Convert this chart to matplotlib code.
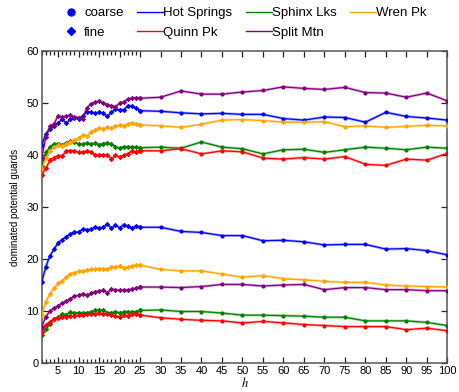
import matplotlib
matplotlib.use('Agg')
import matplotlib.pyplot as plt
from matplotlib.lines import Line2D

plt.rcParams['font.family'] = ['Liberation Sans', 'DejaVu Sans']
plt.rcParams['mathtext.fontset'] = 'stix'

h_fine = list(range(1, 26))
h_coarse = list(range(25, 101, 5))

names = ['Hot Springs', 'Sphinx Lks', 'Wren Pk', 'Quinn Pk', 'Split Mtn']
colors = ['#0000ff', '#008000', '#ffa500', '#ff0000', '#800080']

# upper group
hot_up_fine = [42.0, 44.0, 45.0, 45.5, 46.1, 46.9, 46.1, 46.9, 47.2, 47.0, 47.5, 48.3, 48.2,
               48.0, 48.2, 48.0, 47.4, 48.2, 48.8, 48.7, 48.7, 49.4, 49.4, 49.0, 48.5]
hot_up_coarse = [48.5, 48.4, 48.1, 47.9, 48.0, 47.8, 47.8, 47.0, 46.7, 47.3, 47.2, 46.3,
                 48.2, 47.4, 47.1, 46.7]
sphinx_up_fine = [37.8, 40.5, 41.5, 42.1, 42.2, 41.9, 42.3, 42.6, 42.5, 42.1, 42.1, 42.3, 42.1,
                  42.3, 42.0, 42.2, 42.3, 42.1, 41.6, 41.3, 41.6, 41.6, 41.5, 41.5, 41.4]
sphinx_up_coarse = [41.4, 41.5, 41.3, 42.5, 41.5, 41.2, 40.2, 41.0, 41.1, 40.5, 41.0, 41.5,
                    41.3, 41.0, 41.5, 41.3]
wren_up_fine = [37.3, 39.5, 40.8, 41.5, 41.9, 41.8, 42.1, 42.5, 42.8, 43.3, 43.8, 43.6, 44.5,
                44.8, 45.2, 45.0, 45.3, 45.2, 45.5, 45.8, 45.6, 46.0, 46.1, 46.0, 45.8]
wren_up_coarse = [45.8, 45.6, 45.3, 45.9, 46.7, 46.8, 46.6, 46.3, 46.3, 46.4, 45.4, 45.6,
                  45.3, 45.5, 45.7, 45.6]
quinn_up_fine = [36.2, 37.4, 39.0, 39.5, 39.8, 39.8, 40.8, 40.8, 40.8, 40.5, 40.5, 40.8, 40.5,
                 40.0, 40.0, 40.0, 40.0, 39.2, 39.9, 39.6, 39.9, 40.2, 40.8, 40.6, 40.8]
quinn_up_coarse = [40.8, 40.8, 41.2, 40.2, 40.8, 40.6, 39.4, 39.2, 39.5, 39.2, 39.7, 38.2,
                   38.0, 39.2, 39.0, 40.3]
split_up_fine = [39.5, 43.5, 45.5, 46.0, 47.5, 47.3, 47.5, 47.6, 47.3, 47.2, 47.0, 49.0, 49.8,
                 50.1, 50.4, 50.0, 49.7, 49.5, 49.3, 49.9, 50.2, 50.7, 50.9, 51.0, 50.9]
split_up_coarse = [50.9, 51.1, 52.3, 51.7, 51.7, 52.1, 52.4, 53.1, 52.8, 52.6, 53.0, 52.0,
                   51.9, 51.1, 51.9, 50.4]

# lower group
hot_lo_fine = [15.6, 18.5, 20.6, 21.9, 23.1, 23.7, 24.3, 24.8, 25.1, 25.2, 25.7, 25.6, 25.7,
               26.1, 25.9, 26.1, 26.7, 25.9, 26.5, 26.0, 26.6, 26.3, 25.9, 26.3, 26.1]
hot_lo_coarse = [26.1, 26.1, 25.3, 25.1, 24.5, 24.5, 23.5, 23.6, 23.3, 22.7, 22.8, 22.8,
                 21.9, 22.0, 21.6, 20.8]
sphinx_lo_fine = [5.4, 6.5, 7.5, 8.5, 8.8, 9.4, 9.3, 9.8, 9.6, 9.7, 9.6, 9.7, 9.8,
                  10.1, 10.2, 10.1, 9.7, 9.7, 9.8, 9.7, 9.8, 9.9, 9.8, 9.9, 10.1]
sphinx_lo_coarse = [10.1, 10.2, 9.9, 9.9, 9.6, 9.2, 9.2, 9.1, 9.0, 8.8, 8.8, 8.1,
                    8.1, 8.1, 7.8, 7.2]
wren_lo_fine = [9.2, 11.8, 13.3, 14.4, 15.3, 15.8, 16.5, 17.1, 17.4, 17.6, 17.6, 17.9, 18.0,
                18.0, 18.1, 18.1, 18.0, 18.4, 18.4, 18.7, 18.2, 18.4, 18.7, 18.8, 18.8]
wren_lo_coarse = [18.8, 18.0, 17.7, 17.7, 17.1, 16.5, 16.8, 16.2, 16.0, 15.7, 15.5, 15.5,
                  15.0, 14.8, 14.7, 14.6]
quinn_lo_fine = [6.0, 7.3, 7.9, 8.4, 8.6, 8.8, 8.8, 9.0, 9.0, 9.2, 9.2, 9.4, 9.4,
                 9.4, 9.7, 9.4, 9.4, 9.2, 9.0, 8.8, 9.2, 9.0, 9.4, 9.4, 9.2]
quinn_lo_coarse = [9.2, 8.7, 8.4, 8.2, 8.1, 7.7, 8.0, 7.7, 7.4, 7.2, 7.0, 7.0,
                   7.0, 6.4, 6.7, 6.2]
split_lo_fine = [7.0, 8.9, 10.0, 10.5, 11.0, 11.5, 11.9, 12.4, 12.8, 13.0, 13.3, 13.0, 13.4,
                 13.7, 13.8, 14.0, 13.5, 14.2, 14.0, 14.0, 14.0, 14.0, 14.2, 14.4, 14.6]
split_lo_coarse = [14.6, 14.6, 14.5, 14.7, 15.1, 15.1, 14.8, 15.0, 15.1, 14.1, 14.5, 14.5,
                   14.1, 14.1, 13.9, 13.9]

fine_sets = [hot_up_fine, sphinx_up_fine, wren_up_fine, quinn_up_fine, split_up_fine,
             hot_lo_fine, sphinx_lo_fine, wren_lo_fine, quinn_lo_fine, split_lo_fine]
coarse_sets = [hot_up_coarse, sphinx_up_coarse, wren_up_coarse, quinn_up_coarse, split_up_coarse,
               hot_lo_coarse, sphinx_lo_coarse, wren_lo_coarse, quinn_lo_coarse, split_lo_coarse]

fig = plt.figure(figsize=(4.6, 3.92), dpi=100)
ax = fig.add_axes([0.0907, 0.074, 0.8817, 0.796])

for i in range(len(fine_sets)):
    c = colors[i % 5]
    ax.plot(h_coarse, coarse_sets[i], c=c, lw=2.0, alpha=0.3, zorder=2)
    ax.plot(h_coarse, coarse_sets[i], c=c, lw=0.9, marker='o', ms=3.0, mew=0, zorder=3)
    ax.plot(h_fine, fine_sets[i], c=c, lw=2.0, alpha=0.3, zorder=2)
    ax.plot(h_fine, fine_sets[i], c=c, lw=0.9, marker='D', ms=2.8, mew=0, zorder=3)

ax.set_xlim(1, 100)
ax.set_ylim(0, 60)
ax.set_xticks(list(range(5, 101, 5)))
ax.set_xticks(list(range(1, 26)), minor=True)
ax.set_yticks(list(range(0, 61, 10)))
ax.tick_params(which='both', direction='in', top=True, right=True, labelsize=8,
               color='#222222', pad=2)
ax.tick_params(which='major', length=4, width=0.9)
ax.tick_params(which='minor', length=3, width=0.9)
for s in ax.spines.values():
    s.set_color('#555555')
    s.set_linewidth(1.1)

ax.set_xlabel('$h$', fontsize=9, labelpad=0)
ax.set_ylabel('dominated potential guards', fontsize=7, labelpad=5)

handles = [Line2D([], [], ls='none', marker='o', color='#0000ff', ms=5),
           Line2D([], [], ls='none', marker='D', color='#0000ff', ms=4.5)]
labels = ['coarse', 'fine']
for n, c in zip(names, colors):
    handles.append(Line2D([], [], color=c, lw=1))
    labels.append(n)
# reorder so the column-major layout gives the two-row arrangement
order = [0, 1, 2, 5, 3, 6, 4]
fig.legend([handles[k] for k in order], [labels[k] for k in order],
           loc='upper center', bbox_to_anchor=(0.527, 1.012), ncol=4, frameon=False,
           fontsize=9.5, handlelength=2.0, handletextpad=0.0, columnspacing=1.0,
           labelspacing=0.55)

plt.savefig('out.png', dpi=100)
